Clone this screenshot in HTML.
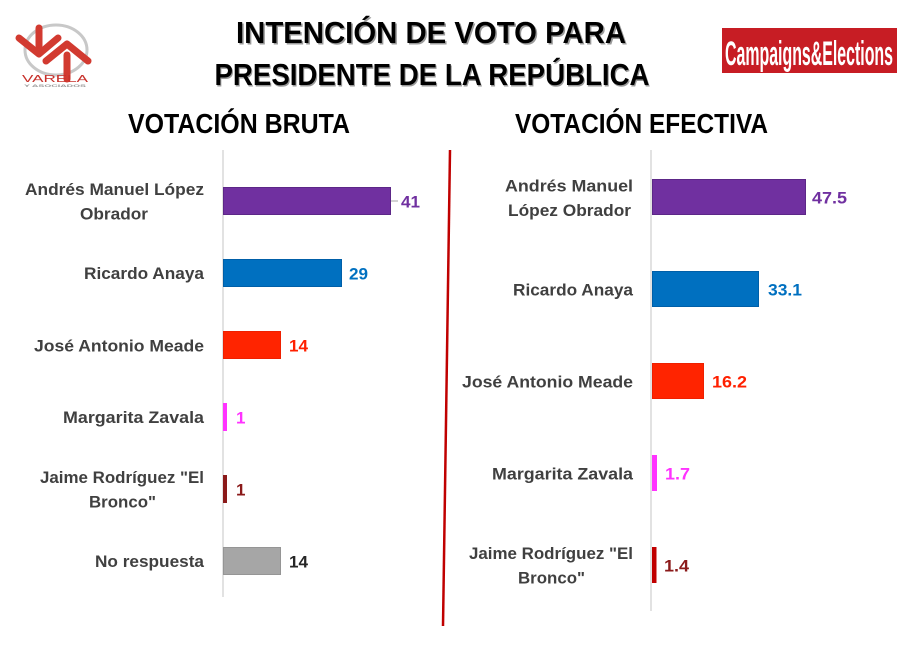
<!DOCTYPE html>
<html><head><meta charset="utf-8"><style>
html,body{margin:0;padding:0;background:#fff;}
svg{display:block;}
text{font-family:"Liberation Sans",sans-serif;font-weight:bold;}
</style></head><body>
<svg width="900" height="654" viewBox="0 0 900 654" xmlns="http://www.w3.org/2000/svg">
<rect width="900" height="654" fill="#fff"/>
<!-- Varela logo -->
<ellipse cx="56" cy="50" rx="31" ry="25" fill="none" stroke="#c8c8c8" stroke-width="3"/>
<g stroke="#d23a30" stroke-width="7" stroke-linecap="round" stroke-linejoin="round" fill="none">
<polyline points="19,38 39,54 58,38"/>
<line x1="39" y1="28" x2="39" y2="46"/>
<polyline points="46,61 67,44 88,61"/>
<line x1="67" y1="55" x2="67" y2="79"/>
</g>
<text x="22" y="82" font-size="10.5" fill="#c8302a" textLength="66" lengthAdjust="spacingAndGlyphs" style="font-weight:normal">VARELA</text>
<text x="24" y="87" font-size="4" fill="#999" textLength="62" lengthAdjust="spacingAndGlyphs">Y ASOCIADOS</text>
<!-- Campaigns & Elections -->
<rect x="722" y="28" width="175" height="45" fill="#c71d24"/>
<text x="725" y="65" font-size="34" fill="#fff" textLength="168" lengthAdjust="spacingAndGlyphs" style="font-family:'Liberation Sans Narrow','Liberation Sans',sans-serif">Campaigns&amp;Elections</text>
<!-- Title -->
<g font-size="31" text-anchor="middle">
<text x="432.5" y="44.5" fill="#9a9a9a" textLength="390" lengthAdjust="spacingAndGlyphs">INTENCIÓN DE VOTO PARA</text>
<text x="433" y="86.5" fill="#9a9a9a" textLength="435" lengthAdjust="spacingAndGlyphs">PRESIDENTE DE LA REPÚBLICA</text>
<text x="431" y="43" fill="#000" textLength="390" lengthAdjust="spacingAndGlyphs">INTENCIÓN DE VOTO PARA</text>
<text x="432" y="85" fill="#000" textLength="435" lengthAdjust="spacingAndGlyphs">PRESIDENTE DE LA REPÚBLICA</text>
</g>
<text x="128" y="133" font-size="28" fill="#000" textLength="222" lengthAdjust="spacingAndGlyphs">VOTACIÓN BRUTA</text>
<text x="515" y="133" font-size="28" fill="#000" textLength="253" lengthAdjust="spacingAndGlyphs">VOTACIÓN EFECTIVA</text>
<!-- divider -->
<line x1="450" y1="150" x2="443" y2="626" stroke="#c00000" stroke-width="2.5"/>
<!-- Left chart -->
<line x1="223" y1="150" x2="223" y2="597" stroke="#d9d9d9" stroke-width="1.5"/>
<rect x="223.5" y="187.5" width="167" height="27" fill="#7030a0" stroke="#5c2787"/>
<line x1="391" y1="201" x2="398" y2="201" stroke="#a6a6a6"/>
<rect x="223.5" y="259.5" width="118" height="27" fill="#0070c0" stroke="#005fa8"/>
<rect x="223.5" y="331.5" width="57" height="27" fill="#ff2400" stroke="#ee2000"/>
<rect x="223" y="403" width="4" height="28" fill="#ff33ff"/>
<rect x="223" y="475" width="4" height="28" fill="#8b1a1a"/>
<rect x="223.5" y="547.5" width="57" height="27" fill="#a6a6a6" stroke="#959595"/>
<g font-size="17" fill="#404040" text-anchor="end">
<text x="204" y="195" textLength="179" lengthAdjust="spacingAndGlyphs">Andrés Manuel López</text>
<text x="148" y="219.5" textLength="68" lengthAdjust="spacingAndGlyphs">Obrador</text>
<text x="204" y="279" textLength="120" lengthAdjust="spacingAndGlyphs">Ricardo Anaya</text>
<text x="204" y="351.5" textLength="170" lengthAdjust="spacingAndGlyphs">José Antonio Meade</text>
<text x="204" y="423" textLength="141" lengthAdjust="spacingAndGlyphs">Margarita Zavala</text>
<text x="204" y="483" textLength="164" lengthAdjust="spacingAndGlyphs">Jaime Rodríguez "El</text>
<text x="156" y="507.5" textLength="67" lengthAdjust="spacingAndGlyphs">Bronco"</text>
<text x="204" y="567" textLength="109" lengthAdjust="spacingAndGlyphs">No respuesta</text>
</g>
<g font-size="17">
<text x="401" y="207.5" fill="#7030a0" textLength="19" lengthAdjust="spacingAndGlyphs">41</text>
<text x="349" y="279.5" fill="#0070c0" textLength="19" lengthAdjust="spacingAndGlyphs">29</text>
<text x="289" y="351.5" fill="#ff2000" textLength="19" lengthAdjust="spacingAndGlyphs">14</text>
<text x="236" y="423.5" fill="#ff33ff">1</text>
<text x="236" y="495.5" fill="#8b1a1a">1</text>
<text x="289" y="567.5" fill="#262626" textLength="19" lengthAdjust="spacingAndGlyphs">14</text>
</g>
<!-- Right chart -->
<line x1="651" y1="150" x2="651" y2="611" stroke="#d9d9d9" stroke-width="1.5"/>
<rect x="652.5" y="179.5" width="153" height="35" fill="#7030a0" stroke="#5c2787"/>
<rect x="652.5" y="271.5" width="106" height="35" fill="#0070c0" stroke="#005fa8"/>
<rect x="652.5" y="363.5" width="51" height="35" fill="#ff2400" stroke="#ee2000"/>
<rect x="652" y="455" width="5" height="36" fill="#ff33ff"/>
<rect x="652" y="547" width="4.5" height="36" fill="#c00000"/>
<g font-size="17" fill="#404040" text-anchor="end">
<text x="633" y="191.5" textLength="128" lengthAdjust="spacingAndGlyphs">Andrés Manuel</text>
<text x="631" y="216" textLength="123" lengthAdjust="spacingAndGlyphs">López Obrador</text>
<text x="633" y="295.5" textLength="120" lengthAdjust="spacingAndGlyphs">Ricardo Anaya</text>
<text x="633" y="387.5" textLength="171" lengthAdjust="spacingAndGlyphs">José Antonio Meade</text>
<text x="633" y="479.5" textLength="141" lengthAdjust="spacingAndGlyphs">Margarita Zavala</text>
<text x="633" y="559" textLength="164" lengthAdjust="spacingAndGlyphs">Jaime Rodríguez "El</text>
<text x="585" y="583.5" textLength="67" lengthAdjust="spacingAndGlyphs">Bronco"</text>
</g>
<g font-size="17">
<text x="812" y="203.5" fill="#7030a0" textLength="35" lengthAdjust="spacingAndGlyphs">47.5</text>
<text x="768" y="295.5" fill="#0070c0" textLength="34" lengthAdjust="spacingAndGlyphs">33.1</text>
<text x="712" y="387.5" fill="#ff2000" textLength="35" lengthAdjust="spacingAndGlyphs">16.2</text>
<text x="665" y="479.5" fill="#ff33ff" textLength="25" lengthAdjust="spacingAndGlyphs">1.7</text>
<text x="664" y="571.5" fill="#8b1a1a" textLength="25" lengthAdjust="spacingAndGlyphs">1.4</text>
</g>
</svg>
</body></html>
